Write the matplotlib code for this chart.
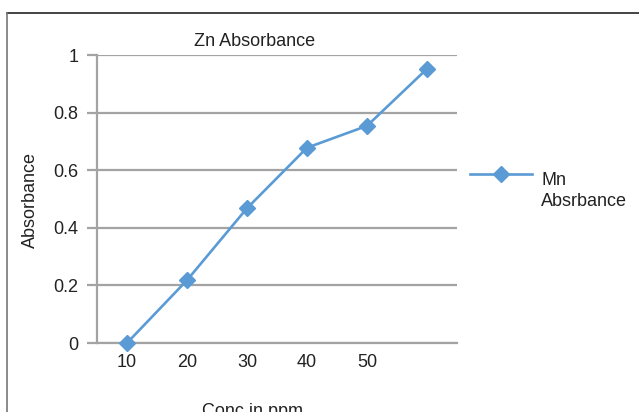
import matplotlib
matplotlib.use("Agg")
import matplotlib.pyplot as plt
from matplotlib.lines import Line2D

plt.rcParams['font.family'] = ['Liberation Sans', 'DejaVu Sans']

categories = ["10", "20", "30", "40", "50", ""]
absorbance = [0.0, 0.218, 0.468, 0.678, 0.754, 0.952]
series_label = ["Mn", "Absrbance"]
yticks = [0, 0.2, 0.4, 0.6, 0.8, 1]
ytick_labels = ["0", "0.2", "0.4", "0.6", "0.8", "1"]

W, H = 639, 412
fig = plt.figure(figsize=(W / 100, H / 100), dpi=100)
fig.patch.set_facecolor("white")

def fx(px):
    return px / W

def fy(py):
    return (H - py) / H

ax = fig.add_axes([fx(97), fy(343), fx(457) - fx(97), fy(55) - fy(343)])

grid_color = "#a3a3a3"
line_color = "#5b9bd5"
text_color = "#222222"
x = list(range(len(categories)))
ax.plot(x, absorbance, color=line_color, lw=1.9, marker="D", markersize=8.5,
        markerfacecolor=line_color, markeredgecolor=line_color, label=series_label[0],
        clip_on=False, zorder=3)

ax.set_xlim(-0.5, len(categories) - 0.5)
ax.set_ylim(0, 1)
ax.set_xticks(x)
ax.set_xticklabels(categories, fontsize=13, color=text_color)
ax.set_yticks(yticks)
ax.set_yticklabels(ytick_labels, fontsize=13, color=text_color)
ax.tick_params(axis="x", length=0, pad=8)
ax.tick_params(axis="y", length=7.2, width=1.6, color=grid_color, pad=6, direction="out")
ax.yaxis.grid(True, color=grid_color, lw=1.6)
ax.set_axisbelow(True)
for s in ["top", "right"]:
    ax.spines[s].set_visible(False)
for s in ["left", "bottom"]:
    ax.spines[s].set_color(grid_color)
    ax.spines[s].set_linewidth(1.6)

fig.text(fx(255), fy(46.5), "Zn Absorbance", fontsize=13, ha="center", va="baseline", color=text_color)
fig.text(fx(30), fy(200), "Absorbance", fontsize=13, rotation=90, ha="center", va="center", color=text_color)
fig.text(fx(253), fy(416), "Conc in ppm", fontsize=13, ha="center", va="baseline", color=text_color)

leg = ax.legend(loc="center left", bbox_to_anchor=(fx(470), fy(176)), bbox_transform=fig.transFigure,
                frameon=False, fontsize=13, handlelength=3.45, handletextpad=0.5,
                borderaxespad=0, borderpad=0)
for t in leg.get_texts():
    t.set_color(text_color)
    t.set_y(-4.5)
fig.text(fx(541), fy(206.5), series_label[1], fontsize=13, ha="left", va="baseline", color=text_color)

fig.add_artist(Line2D([fx(7), fx(639)], [fy(13), fy(13)], color="#222222", lw=1.2))
fig.add_artist(Line2D([fx(7), fx(7)], [fy(13), fy(412)], color="#777777", lw=1.2))

fig.savefig("out.png", dpi=100)
